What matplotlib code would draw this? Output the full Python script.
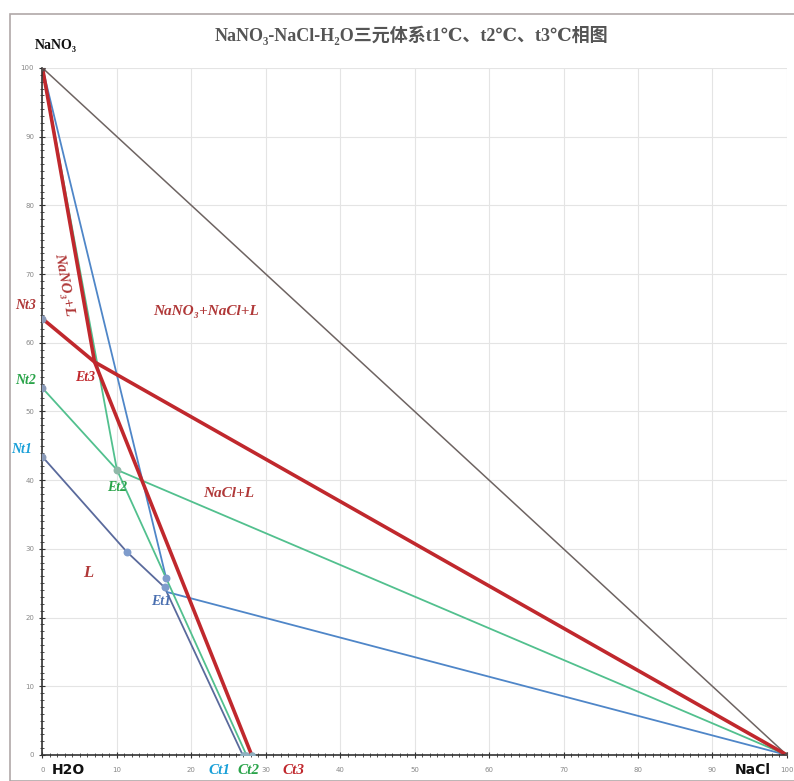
import matplotlib.pyplot as plt
from matplotlib.patches import Rectangle

# 数据：各温度下的点（x = NaCl %, y = NaNO3 %）
nt_y = [43.4, 53.4, 63.5]          # Nt1, Nt2, Nt3 (x = 0)
et_x = [16.4, 10.0, 7.0]           # Et1, Et2, Et3
et_y = [24.4, 41.5, 57.2]
ct_x = [26.9, 27.4, 28.1]          # Ct1, Ct2, Ct3 (y = 0)
et1_top = [16.6, 25.8]             # 蓝线上端交点
et1_low = [16.8, 23.7]             # 蓝线去 NaCl 的起点
nt1_mid = [11.3, 29.6]             # Nt1 线上的中间点

red = '#c0282d'
green = '#52c08e'
blue = '#4f86c8'
slate = '#5a6a9c'

fig = plt.figure(figsize=(7.94, 7.81), dpi=100)
ax = fig.add_axes([0.0535, 0.0333, 0.9375, 0.8797])

# 外框
fig.patches.append(Rectangle((0.0126, 0.0), 0.99, 0.982, transform=fig.transFigure,
                             fill=False, edgecolor='#b0a8a8', linewidth=1.2))

# 三角形斜边
ax.plot([0, 100], [100, 0], color='#6e6462', lw=1.1)

# t1 (蓝)
ax.plot([0, nt1_mid[0], et_x[0], ct_x[0]], [nt_y[0], nt1_mid[1], et_y[0], 0], color=slate, lw=1.3)
ax.plot([0, et1_top[0]], [100, et1_top[1]], color=blue, lw=1.3)
ax.plot([et1_low[0], 100], [et1_low[1], 0], color=blue, lw=1.3)

# t2 (绿)
ax.plot([0, et_x[1], ct_x[1]], [100, et_y[1], 0], color=green, lw=1.3)
ax.plot([0, et_x[1], 100], [nt_y[1], et_y[1], 0], color=green, lw=1.3)

# t3 (红)
ax.plot([0, et_x[2], ct_x[2]], [100, et_y[2], 0], color=red, lw=2.6)
ax.plot([0, et_x[2], 100], [nt_y[2], et_y[2], 0], color=red, lw=2.6)

# 标记点
ax.scatter([0, 0, 0], nt_y, s=22, color='#8a9ab8', zorder=5)
ax.scatter([et_x[0], nt1_mid[0], et1_top[0]], [et_y[0], nt1_mid[1], et1_top[1]],
           s=22, color='#7f9ccc', zorder=5)
ax.scatter([et_x[1]], [et_y[1]], s=22, color='#8fb8a8', zorder=5)
ax.scatter([0, 100], [100, 0], s=12, color='#5a4a4a', zorder=5)
ax.scatter(ct_x, [0, 0, 0], s=14, color='#8fb0c0', zorder=5)

ax.set_xlim(0, 100)
ax.set_ylim(0, 100)
ax.set_xticks(range(0, 101, 10))
ax.set_yticks(range(0, 101, 10))
ax.set_xticks(range(0, 101, 1), minor=True)
ax.set_yticks(range(0, 101, 1), minor=True)
ax.tick_params(axis='both', which='major', labelsize=5, labelcolor='#888888',
               direction='inout', length=5, width=0.8, color='#333333')
ax.tick_params(axis='both', which='minor', direction='inout', length=3, width=0.6, color='#333333')
ax.tick_params(axis='x', pad=6)
ax.grid(True, which='major', color='#e4e4e4', lw=0.8)
ax.set_axisbelow(True)
for s in ['top', 'right']:
    ax.spines[s].set_visible(False)
for s in ['left', 'bottom']:
    ax.spines[s].set_color('#333333')
    ax.spines[s].set_linewidth(1.2)

serif = ['Liberation Serif', 'DejaVu Serif', 'Noto Sans CJK SC']
lab = dict(fontfamily=serif, fontstyle='italic', fontweight='bold')

# 区域标注
ax.text(2.9, 68.5, 'NaNO₃+L', color='#b03838', fontsize=11, rotation=-80,
        ha='center', va='center', **lab)
ax.text(22.0, 64.5, 'NaNO₃+NaCl+L', color='#b03838', fontsize=11, ha='center', va='center', **lab)
ax.text(25.0, 38.0, 'NaCl+L', color='#b03838', fontsize=11, ha='center', va='center', **lab)
ax.text(6.1, 26.5, 'L', color='#b03838', fontsize=12, ha='center', va='center', **lab)

# 点标注
ax.text(5.8, 55.0, 'Et3', color=red, fontsize=10, ha='center', va='center', **lab)
ax.text(10.0, 39.0, 'Et2', color='#2aa44a', fontsize=10, ha='center', va='center', **lab)
ax.text(16.0, 22.4, 'Et1', color='#4a6fb0', fontsize=10, ha='center', va='center', **lab)

fig.text(0.032, 0.609, 'Nt3', color='#b03838', fontsize=10, ha='center', va='center', **lab)
fig.text(0.032, 0.513, 'Nt2', color='#2aa44a', fontsize=10, ha='center', va='center', **lab)
fig.text(0.027, 0.424, 'Nt1', color='#1aa0d8', fontsize=10, ha='center', va='center', **lab)

fig.text(0.277, 0.014, 'Ct1', color='#1aa0d8', fontsize=11, ha='center', va='center', **lab)
fig.text(0.313, 0.014, 'Ct2', color='#2aa44a', fontsize=11, ha='center', va='center', **lab)
fig.text(0.369, 0.014, 'Ct3', color=red, fontsize=11, ha='center', va='center', **lab)

# 顶点名称
fig.text(0.086, 0.014, 'H2O', color='#111111', fontsize=10, fontweight='bold',
         ha='center', va='center')
fig.text(0.948, 0.014, 'NaCl', color='#111111', fontsize=10, fontweight='bold',
         ha='center', va='center')
fig.text(0.070, 0.942, 'NaNO₃', color='#111111', fontsize=10, fontweight='bold',
         fontfamily=serif, ha='center', va='center')

# 标题
fig.text(0.518, 0.955, 'NaNO₃-NaCl-H₂O三元体系t1℃、t2℃、t3℃相图', color='#555555',
         fontsize=13, fontweight='bold', fontfamily=serif, ha='center', va='center')

fig.savefig('out.png', dpi=100)
